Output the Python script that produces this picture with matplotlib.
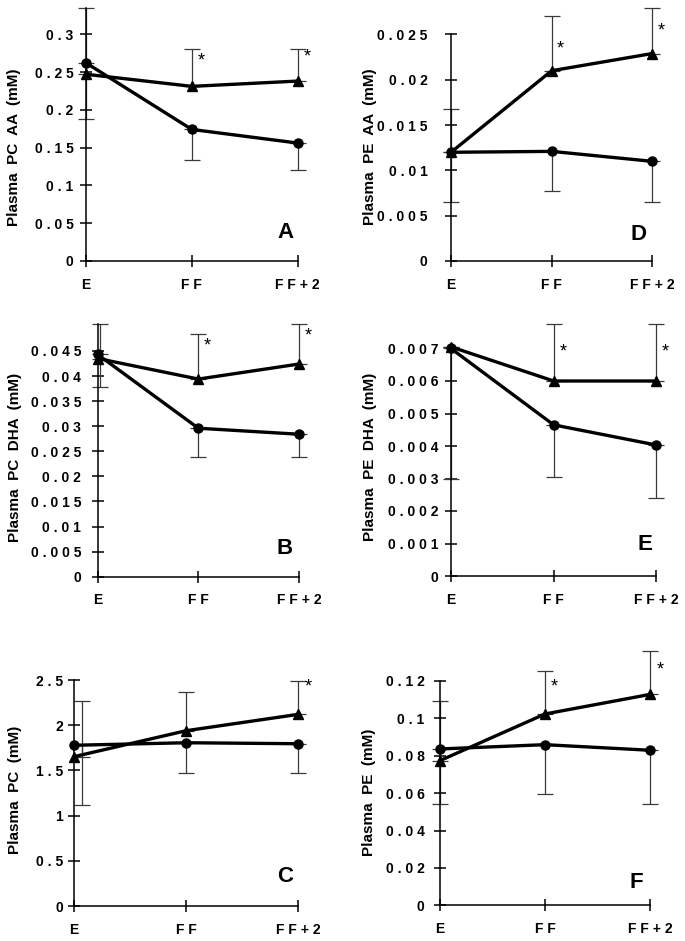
import matplotlib
matplotlib.use("Agg")
import matplotlib.pyplot as plt

W, H = 685, 941
plt.rcParams["font.family"] = ["Liberation Sans", "DejaVu Sans"]

groups = ["E", "F F", "F F + 2"]
xpos = [0, 1, 2]

# A: plasma PC AA (mM)
pc_aa_circ = [0.262, 0.174, 0.156]
pc_aa_circ_err = [0.074, 0.041, 0.036]
pc_aa_tri = [0.247, 0.231, 0.238]
pc_aa_tri_err = [0.088, 0.049, 0.042]
pc_aa_star = [None, 0.265, 0.27]
pc_aa_ticks = [0, 0.05, 0.1, 0.15, 0.2, 0.25, 0.3]

# D: plasma PE AA (mM)
pe_aa_circ = [0.012, 0.0121, 0.011]
pe_aa_circ_err = [0.0055, 0.0044, 0.0045]
pe_aa_tri = [0.012, 0.021, 0.0229]
pe_aa_tri_err = [0.0048, 0.006, 0.005]
pe_aa_star = [None, 0.0234, 0.0254]
pe_aa_ticks = [0, 0.005, 0.01, 0.015, 0.02, 0.025]

# B: plasma PC DHA (mM)
pc_dha_circ = [0.0443, 0.0296, 0.0284]
pc_dha_circ_err = [0.0064, 0.0058, 0.0046]
pc_dha_tri = [0.0435, 0.0394, 0.0424]
pc_dha_tri_err = [0.0069, 0.0089, 0.008]
pc_dha_star = [None, 0.0459, 0.048]
pc_dha_ticks = [0, 0.005, 0.01, 0.015, 0.02, 0.025, 0.03, 0.035, 0.04, 0.045]

# E: plasma PE DHA (mM)
pe_dha_circ = [0.007, 0.00465, 0.00403]
pe_dha_circ_err = [0.004, 0.0016, 0.00164]
pe_dha_tri = [0.00705, 0.006, 0.006]
pe_dha_tri_err = [0.0, 0.00176, 0.00176]
pe_dha_star = [None, 0.0069, 0.0069]
pe_dha_ticks = [0, 0.001, 0.002, 0.003, 0.004, 0.005, 0.006, 0.007]

# C: plasma PC (mM)
pc_circ = [1.778, 1.806, 1.795]
pc_circ_err = [0.66, 0.335, 0.324]
pc_tri = [1.652, 1.939, 2.12]
pc_tri_err = [0.616, 0.428, 0.37]
pc_star = [None, None, 2.42]
pc_ticks = [0, 0.5, 1, 1.5, 2, 2.5]

# F: plasma PE (mM)
pe_circ = [0.0836, 0.0859, 0.0829]
pe_circ_err = [0.0293, 0.0262, 0.0286]
pe_tri = [0.0773, 0.1023, 0.1128]
pe_tri_err = [0.0319, 0.0231, 0.0233]
pe_star = [None, 0.1166, 0.126]
pe_ticks = [0, 0.02, 0.04, 0.06, 0.08, 0.1, 0.12]

fig = plt.figure(figsize=(W / 100, H / 100), dpi=100)


def spaced(v):
    s = f"{v:g}"
    return " ".join(s)


def panel(l, r, y0, ppu, ytop, spine_top, circ, circ_err, tri, tri_err,
          stars, ticks, ylabel, letter, label_x, label_y, letter_xy,
          ypad=5, star_dx=0.09, err_dx=0.0):
    ax = fig.add_axes([l / W, 1 - y0 / H, (r - l) / W, ytop * ppu / H])
    ax.set_xlim(0, 2)
    ax.set_ylim(0, ytop)
    ex = [x + (err_dx if i == 0 else 0) for i, x in enumerate(xpos)]
    zeros = [0] * 3
    ax.errorbar(ex, tri, yerr=[zeros, tri_err], fmt="none", ecolor="#3a3a3a",
                elinewidth=0.9, capsize=5.5, capthick=0.9, clip_on=False, zorder=2)
    ax.errorbar(ex, circ, yerr=[circ_err, zeros], fmt="none", ecolor="#3a3a3a",
                elinewidth=0.9, capsize=5.5, capthick=0.9, clip_on=False, zorder=2)
    ax.plot(xpos, circ, "-o", color="black", lw=2.4, ms=6.5, clip_on=False, zorder=3)
    ax.plot(xpos, tri, "-^", color="black", lw=2.4, ms=7.5, clip_on=False, zorder=3)
    for x, s in zip(xpos, stars):
        if s is not None:
            ax.text(x + star_dx, s, "*", ha="center", va="center", fontsize=13)

    for side in ["top", "right"]:
        ax.spines[side].set_visible(False)
    ax.spines["left"].set_bounds(0, spine_top)
    ax.spines["left"].set_linewidth(1.1)
    ax.spines["bottom"].set_linewidth(1.1)
    ax.set_yticks(ticks)
    ax.set_yticklabels([spaced(t) for t in ticks], fontsize=10, fontweight="bold")
    ax.set_xticks(xpos)
    ax.set_xticklabels(groups, fontsize=10, fontweight="bold")
    ax.tick_params(axis="y", direction="inout", length=8, width=1.1, pad=ypad)
    ax.tick_params(axis="x", direction="inout", length=8, width=1.1, pad=8)

    fig.text(label_x / W, 1 - label_y / H, ylabel, rotation=90, ha="center",
             va="center", fontsize=11, fontweight="bold")
    fig.text(letter_xy[0] / W, 1 - letter_xy[1] / H, letter, ha="center",
             va="center", fontsize=16, fontweight="bold")
    return ax


panel(86, 297.7, 261, 756, 0.34, 0.335, pc_aa_circ, pc_aa_circ_err,
      pc_aa_tri, pc_aa_tri_err, pc_aa_star, pc_aa_ticks,
      "Plasma  PC  AA  (mM)", "A", 14, 147, (285, 232), ypad=5)
panel(451, 652.3, 261, 9060, 0.028, 0.025, pe_aa_circ, pe_aa_circ_err,
      pe_aa_tri, pe_aa_tri_err, pe_aa_star, pe_aa_ticks,
      "Plasma  PE  AA  (mM)", "D", 370, 147, (639, 235), ypad=13)
panel(97.7, 299, 576.7, 5016, 0.0505, 0.0504, pc_dha_circ, pc_dha_circ_err,
      pc_dha_tri, pc_dha_tri_err, pc_dha_star, pc_dha_ticks,
      "Plasma  PC  DHA  (mM)", "B", 15, 457, (285, 549), ypad=8, err_dx=0.02)
panel(451, 656.3, 576, 32500, 0.0078, 0.007, pe_dha_circ, pe_dha_circ_err,
      pe_dha_tri, pe_dha_tri_err, pe_dha_star, pe_dha_ticks,
      "Plasma  PE  DHA  (mM)", "E", 370, 457, (645, 545), ypad=5)
panel(74, 298.3, 906, 90.4, 2.5, 2.5, pc_circ, pc_circ_err,
      pc_tri, pc_tri_err, pc_star, pc_ticks,
      "Plasma  PC  (mM)", "C", 15, 790, (285, 877), ypad=4, err_dx=0.07)
panel(439.7, 650.3, 905.3, 1870, 0.137, 0.12, pe_circ, pe_circ_err,
      pe_tri, pe_tri_err, pe_star, pe_ticks,
      "Plasma  PE  (mM)", "F", 369, 792, (636, 882), ypad=7)

fig.savefig("out.png", dpi=100)
